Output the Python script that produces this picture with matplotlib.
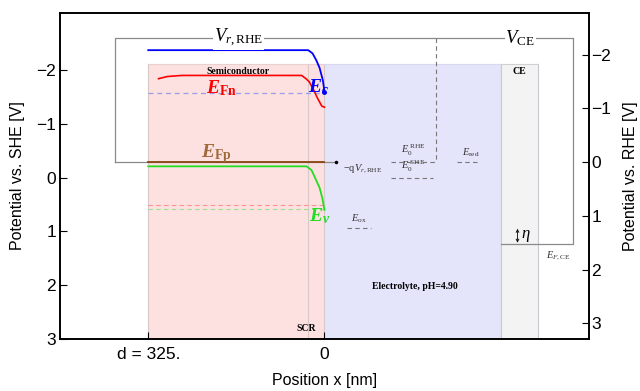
import matplotlib
matplotlib.use("Agg")
import matplotlib.pyplot as plt

plt.rcParams['font.family'] = ['Liberation Sans', 'DejaVu Sans']
plt.rcParams['mathtext.fontset'] = 'custom'
plt.rcParams['mathtext.rm'] = 'Liberation Serif'
plt.rcParams['mathtext.it'] = 'Liberation Serif:italic'
plt.rcParams['mathtext.bf'] = 'Liberation Serif:bold'
plt.rcParams['mathtext.cal'] = 'Liberation Serif:bold:italic'

# --- data (x in nm, potential vs SHE in V) ---
D = 325.0
PH = 4.90
RHE_SHIFT = 0.059 * PH

ec_x = [-325, -30, -22, -15, -9, -3, 0]
ec_y = [-2.37, -2.37, -2.31, -2.18, -2.04, -1.81, -1.60]

efn_x = [-306, -290, -263, -42, -33, -28, -20, -13, -5, 0]
efn_y = [-1.84, -1.88, -1.90, -1.90, -1.83, -1.78, -1.63, -1.48, -1.33, -1.31]

ev_x = [-325, -33, -24, -17, -9, -4, 0]
ev_y = [-0.21, -0.21, -0.14, 0.01, 0.19, 0.38, 0.60]

efp_level = -0.29
efn_dash_level = -1.58
red_dash_level = 0.51
green_dash_level = 0.58

e0_rhe = -0.29
e0_she = 0.0
e_red = -0.29
e_ox = 0.94
ef_ce = 1.23
bracket_top = -2.6

region_top = -2.11
scr_w = 31
ce_left, ce_right = 326, 394

fig = plt.figure(figsize=(6.4, 3.91), dpi=100)
ax = fig.add_axes([0.094, 0.133, 0.826, 0.835])

ylo, yhi = -3.07, 3.0
ax.set_xlim(-1.5 * D, 1.5 * D)
ax.set_ylim(yhi, ylo)

# regions
ax.fill_between([-D, 0], region_top, yhi, color='#fde1e1', zorder=0, lw=0)
ax.fill_between([0, ce_left], region_top, yhi, color='#e4e4fa', zorder=0, lw=0)
ax.fill_between([ce_left, ce_right], region_top, yhi, color='#f3f3f3', zorder=0, lw=0)
for xv in [-D, -scr_w, 0]:
    ax.plot([xv, xv], [region_top, yhi], color='#d8c8c8', lw=0.8, zorder=1)
ax.plot([-D, 0], [region_top, region_top], color='#e8d0d0', lw=0.8, zorder=1)
ax.plot([0, ce_left], [region_top, region_top], color='#d8d8f0', lw=0.8, zorder=1)
for xv in [ce_left, ce_right]:
    ax.plot([xv, xv], [region_top, yhi], color='#c8c8d0', lw=0.8, zorder=1)
ax.plot([ce_left, ce_right], [region_top, region_top], color='#d0d0d0', lw=0.8, zorder=1)

# brackets
gray = '#8a8a8a'
ax.plot([-387, -387, 459, 459, ce_left], [efp_level, bracket_top, bracket_top, ef_ce, ef_ce],
        color=gray, lw=0.9, zorder=2)
ax.plot([-387, 22], [efp_level, efp_level], color=gray, lw=0.9, zorder=2)
ax.plot([22], [efp_level], 'o', color='black', ms=1.5, zorder=3)
ax.plot([205, 205], [bracket_top, e0_rhe], color='#777777', lw=0.8, ls=(0, (4, 3)), zorder=2)

# levels in the electrolyte
dash = dict(color='#777777', lw=0.8, ls=(0, (4, 3)), zorder=2)
ax.plot([123, 205], [e0_rhe, e0_rhe], **dash)
ax.plot([123, 201], [e0_she, e0_she], **dash)
ax.plot([245, 287], [e_red, e_red], **dash)
ax.plot([42, 85], [e_ox, e_ox], **dash)

# semiconductor levels
ax.plot([-D, 0], [efn_dash_level] * 2, color='#9c9ce8', lw=0.9, ls=(0, (4, 3)), zorder=2)
ax.plot([-D, 0], [red_dash_level] * 2, color='#ff9090', lw=0.8, ls=(0, (4, 3)), zorder=2)
ax.plot([-D, 0], [green_dash_level] * 2, color='#a0e090', lw=0.8, ls=(0, (4, 3)), zorder=2)
ax.plot([-D, 0], [efp_level] * 2, color='#8b4513', lw=1.3, zorder=3)

ax.plot(ec_x, ec_y, color='#0000ff', lw=1.3, zorder=4)
ax.plot([ec_x[-1]], [ec_y[-1]], 'o', color='#0000ff', ms=2.5, zorder=4)
ax.plot(efn_x, efn_y, color='#ff0000', lw=1.2, zorder=4)
ax.plot(ev_x, ev_y, color='#22dd22', lw=1.3, zorder=4)

# labels
ax.text(-158, bracket_top, r'$V_{r,\mathrm{RHE}}$', fontsize=13.5, ha='center', va='center',
        bbox=dict(facecolor='white', edgecolor='none', pad=0.5), zorder=5)
ax.text(361, bracket_top, r'$V_{\mathrm{CE}}$', fontsize=13.5, ha='center', va='center',
        bbox=dict(facecolor='white', edgecolor='none', pad=0.5), zorder=5)
ax.text(-190, -1.66, r'$\mathcal{E}_{\mathbf{Fn}}$', fontsize=14, color='#ff0000',
        ha='center', va='center', zorder=5)
ax.text(-199, -0.44, r'$\mathcal{E}_{\mathbf{Fp}}$', fontsize=14, color='#a0693a',
        ha='center', va='center', zorder=5)
ax.text(-11, -1.68, r'$\mathcal{E}_{\mathcal{c}}$', fontsize=14, color='#0000ff',
        ha='center', va='center', zorder=5)
ax.text(-8, 0.72, r'$\mathcal{E}_{\mathcal{v}}$', fontsize=14, color='#22dd22',
        ha='center', va='center', zorder=5)

ax.text(-160, -1.98, 'Semiconductor', fontsize=7, fontweight='bold', family='Liberation Serif',
        ha='center', va='center')
ax.text(359, -1.98, 'CE', fontsize=7, fontweight='bold', family='Liberation Serif',
        ha='center', va='center')
ax.text(166, 2.03, 'Electrolyte, pH=4.90', fontsize=7, fontweight='bold',
        family='Liberation Serif', ha='center', va='center')
ax.text(-33, 2.81, 'SCR', fontsize=7, fontweight='bold', family='Liberation Serif',
        ha='center', va='center')

small = dict(fontsize=7.5, ha='center', va='center', color='#333333')
ax.text(35, -0.16, r'$-\mathrm{q}V_{r,\mathrm{RHE}}$', fontsize=7.5, ha='left', va='center',
        color='#333333')
ax.text(164, -0.5, r'$E_0^{\ \mathrm{RHE}}$', **small)
ax.text(164, -0.2, r'$E_0^{\ \mathrm{SHE}}$', **small)
ax.text(269, -0.46, r'$E_{\mathrm{red}}$', **small)
ax.text(63, 0.76, r'$E_{\mathrm{ox}}$', **small)
ax.text(431, 1.46, r'$E_{F,\mathrm{CE}}$', **small)

ax.annotate('', xy=(356, 0.95), xytext=(356, 1.21),
            arrowprops=dict(arrowstyle='<->', color='black', lw=0.6,
                            mutation_scale=5, shrinkA=0, shrinkB=0))
ax.text(363, 1.08, r'$\eta$', fontsize=12, ha='left', va='center')

# axes
ax.set_xticks([-D, 0])
ax.set_xticklabels(['d = 325.', '0'])
ax.set_yticks([-2, -1, 0, 1, 2, 3])
ax.set_yticklabels(['\u22122', '\u22121', '0', '1', '2', '3'])
ax.tick_params(direction='in', length=5, labelsize=12.5, width=0.8, pad=3)
ax.tick_params(axis='x', pad=6)
ax.set_ylabel('Potential vs. SHE [V]', fontsize=11.5, labelpad=8)
ax.set_xlabel('Position x [nm]', fontsize=11.5, labelpad=8)

ax2 = ax.twinx()
ax2.set_ylim(yhi + RHE_SHIFT, ylo + RHE_SHIFT)
ax2.set_yticks([-2, -1, 0, 1, 2, 3])
ax2.set_yticklabels(['\u22122', '\u22121', '0', '1', '2', '3'])
ax2.tick_params(direction='in', length=5, labelsize=12.5, width=0.8, pad=2)
ax2.set_ylabel('Potential vs. RHE [V]', fontsize=11.5, labelpad=8)

for a in (ax, ax2):
    for s in a.spines.values():
        s.set_linewidth(1.2)

fig.savefig('out.png', dpi=100)
